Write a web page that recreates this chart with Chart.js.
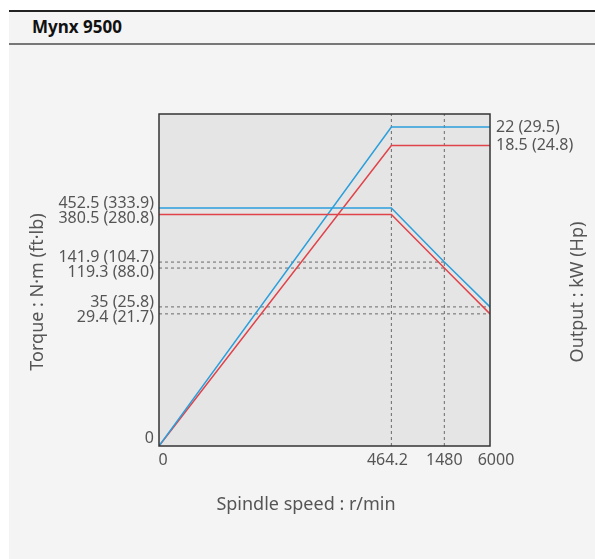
<!DOCTYPE html>
<html>
<head>
<meta charset="utf-8">
<script src="https://cdn.jsdelivr.net/npm/chart.js@4.4.1/dist/chart.umd.min.js"></script>
<style>
  html, body { margin: 0; padding: 0; background: #fff; }
  body { width: 595px; height: 559px; position: relative; overflow: hidden; font-family: 'Noto Sans', sans-serif; }
  .panel { position: absolute; left: 9px; top: 10px; right: 0; bottom: 0; background: #f4f4f4; border-top: 2px solid #222; }
  .head { position: absolute; left: 0; right: 0; top: 0; height: 31px; border-bottom: 2px solid #777; }
  .head span { position: absolute; left: 23px; top: 3px; font-weight: bold; font-size: 17px; color: #111; }
  canvas { position: absolute; left: 0; top: 0; }
</style>
</head>
<body>
<div class="panel"><div class="head"><span>Mynx 9500</span></div></div>
<canvas id="spindleChart" width="595" height="559"></canvas>
<script>
// spindle speed r/min
const speeds = [0, 464.2, 1480, 6000];
const speedLabels = ['0', '464.2', '1480', '6000'];

// torque N·m (two motor ratings)
const torqueHigh = [452.5, 452.5, 141.9, 35];
const torqueLow = [380.5, 380.5, 119.3, 29.4];

// output kW
const outputHigh = [0, 22, 22, 22];
const outputLow = [0, 18.5, 18.5, 18.5];

const torqueTicks = [0, 29.4, 35, 119.3, 141.9, 380.5, 452.5];
const torqueTickLabels = ['0', '29.4 (21.7)', '35 (25.8)', '119.3 (88.0)', '141.9 (104.7)', '380.5 (280.8)', '452.5 (333.9)'];
const outputTicks = [18.5, 22];
const outputTickLabels = ['18.5 (24.8)', '22 (29.5)'];

// reference guide values
const guideSpeeds = [464.2, 1480];
const guideTorqueAt1480 = [141.9, 119.3];
const guideTorqueAt6000 = [35, 29.4];

const BLUE = '#2b9fdb';
const RED = '#e0434a';
const GUIDE = '#6a6a6a';
const TEXT = '#555';
const FONT = "'Noto Sans', sans-serif";

// schematic (not to scale) axis: straight pieces between break values
class BreakScale extends Chart.LinearScale {
  _frac(v) {
    const b = this.options.breaks, f = this.options.fractions;
    let i = 1;
    while (i < b.length - 1 && v > b[i]) i++;
    const t = (v - b[i - 1]) / (b[i] - b[i - 1]);
    return f[i - 1] + t * (f[i] - f[i - 1]);
  }
  getPixelForValue(v) {
    return this.getPixelForDecimal(this._frac(v));
  }
  getValueForPixel(p) {
    const d = this.getDecimalForPixel(p);
    const b = this.options.breaks, f = this.options.fractions;
    let i = 1;
    while (i < f.length - 1 && d > f[i]) i++;
    const t = (d - f[i - 1]) / (f[i] - f[i - 1]);
    return b[i - 1] + t * (b[i] - b[i - 1]);
  }
}
BreakScale.id = 'breaks';
BreakScale.defaults = Chart.LinearScale.defaults;
Chart.register(BreakScale);

const pts = (xs, ys) => xs.map((x, i) => ({ x: x, y: ys[i] }));

const datasets = [
  { data: pts(speeds, torqueHigh), borderColor: BLUE, yAxisID: 'yT', order: 1 },
  { data: pts(speeds, torqueLow), borderColor: RED, yAxisID: 'yT', order: 1 },
  { data: pts(speeds, outputHigh), borderColor: BLUE, yAxisID: 'yP', order: 1 },
  { data: pts(speeds, outputLow), borderColor: RED, yAxisID: 'yP', order: 1 },
];
guideSpeeds.forEach(s => {
  datasets.push({ data: [{ x: s, y: 0 }, { x: s, y: 1 }], borderColor: GUIDE, borderDash: [3, 3], borderWidth: 1, yAxisID: 'yR', order: 2 });
});
guideTorqueAt1480.forEach(v => {
  datasets.push({ data: [{ x: 0, y: v }, { x: 1480, y: v }], borderColor: GUIDE, borderDash: [3, 3], borderWidth: 1, yAxisID: 'yT', order: 2 });
});
guideTorqueAt6000.forEach(v => {
  datasets.push({ data: [{ x: 0, y: v }, { x: 6000, y: v }], borderColor: GUIDE, borderDash: [3, 3], borderWidth: 1, yAxisID: 'yT', order: 2 });
});

// spread labels that sit too close together
function spread(items, gap) {
  items.sort((a, b) => a.y - b.y);
  for (let i = 0; i < items.length - 1; i++) {
    const a = items[i], b = items[i + 1];
    if (b.y - a.y < gap) {
      const mid = (a.y + b.y) / 2;
      a.y = mid - gap / 2;
      b.y = mid + gap / 2;
    }
  }
  return items;
}

const framePlugin = {
  id: 'frame',
  beforeDatasetsDraw(chart) {
    const { ctx, chartArea: a } = chart;
    ctx.save();
    ctx.fillStyle = '#e5e5e5';
    ctx.fillRect(a.left, a.top, a.right - a.left, a.bottom - a.top);
    ctx.restore();
  },
  afterDatasetsDraw(chart) {
    const { ctx, chartArea: a } = chart;
    ctx.save();
    ctx.strokeStyle = '#333';
    ctx.lineWidth = 1.5;
    ctx.strokeRect(a.left, a.top, a.right - a.left, a.bottom - a.top);
    ctx.restore();
  },
  afterDraw(chart) {
    const { ctx, chartArea: a, scales } = chart;
    ctx.save();
    ctx.fillStyle = TEXT;
    ctx.font = '16px ' + FONT;
    ctx.textBaseline = 'middle';

    // left torque labels
    ctx.textAlign = 'right';
    const left = spread(torqueTicks.map((v, i) => ({ y: scales.yT.getPixelForValue(v), t: torqueTickLabels[i] })), 15);
    left.forEach(l => ctx.fillText(l.t, a.left - 5, Math.min(l.y, a.bottom - 8)));

    // right output labels
    ctx.textAlign = 'left';
    outputTicks.forEach((v, i) => ctx.fillText(outputTickLabels[i], a.right + 6, scales.yP.getPixelForValue(v)));

    // speed labels
    const nudge = [4, -4, 0, 6];
    ctx.textAlign = 'center';
    speeds.forEach((v, i) => ctx.fillText(speedLabels[i], scales.x.getPixelForValue(v) + nudge[i], a.bottom + 14));

    // axis titles
    ctx.font = '18px ' + FONT;
    ctx.fillText('Spindle speed : r/min', 306, 505);
    ctx.save();
    ctx.translate(38, 292);
    ctx.rotate(-Math.PI / 2);
    ctx.fillText('Torque : N·m (ft·lb)', 0, 0);
    ctx.restore();
    ctx.save();
    ctx.translate(578, 292);
    ctx.rotate(-Math.PI / 2);
    ctx.fillText('Output : kW (Hp)', 0, 0);
    ctx.restore();
    ctx.restore();
  }
};

new Chart(document.getElementById('spindleChart').getContext('2d'), {
  type: 'line',
  data: { datasets: datasets },
  options: {
    responsive: false,
    animation: false,
    layout: { padding: { left: 159, right: 105, top: 114, bottom: 113 } },
    elements: {
      line: { borderWidth: 1.5, tension: 0, fill: false },
      point: { radius: 0 },
    },
    plugins: { legend: { display: false }, tooltip: { enabled: false } },
    scales: {
      x: { type: 'breaks', display: false, min: 0, max: 6000, breaks: speeds, fractions: [0, 0.702, 0.862, 1] },
      yT: { type: 'breaks', display: false, position: 'left', min: 0, max: 452.5,
            breaks: torqueTicks, fractions: [0, 0.398, 0.419, 0.536, 0.554, 0.697, 0.717] },
      yP: { type: 'breaks', display: false, position: 'right', min: 0, max: 22,
            breaks: [0, 18.5, 22], fractions: [0, 0.905, 0.961] },
      yR: { type: 'linear', display: false, min: 0, max: 1 },
    },
  },
  plugins: [framePlugin],
});
</script>
</body>
</html>
